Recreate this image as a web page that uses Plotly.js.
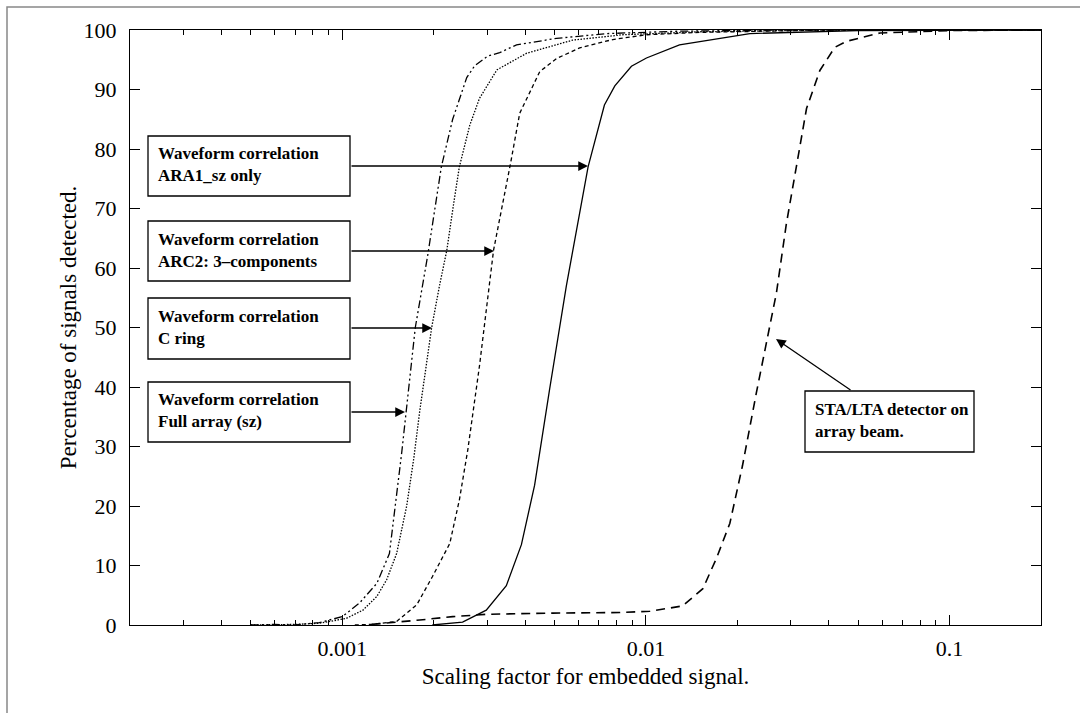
<!DOCTYPE html>
<html>
<head>
<meta charset="utf-8">
<script src="https://cdn.plot.ly/plotly-3.0.1.min.js"></script>
<style>html,body{margin:0;padding:0;background:#fff;}#chart{width:1080px;height:713px;}</style>
</head>
<body>
<div id="chart"></div>
<script>
// ---- Data ----
const fullArrayX = [0.0005, 0.0006, 0.0007, 0.00084, 0.0010, 0.00114, 0.0013, 0.00143, 0.00157, 0.00174, 0.00191, 0.00212, 0.00231, 0.00257, 0.00273, 0.00301, 0.0033, 0.00375, 0.00508, 0.00743, 0.0129, 0.03, 0.2];
const fullArrayY = [0, 0.1, 0, 0.4, 1.4, 3.7, 7, 12, 29, 50, 62, 77, 85, 92, 94, 95.6, 96.2, 97.5, 98.6, 99.4, 99.8, 100, 100];

const cRingX = [0.0005, 0.0006, 0.0007, 0.00084, 0.00103, 0.00117, 0.0013, 0.0014, 0.00151, 0.00163, 0.00172, 0.0018, 0.00188, 0.00197, 0.00209, 0.00221, 0.00233, 0.00243, 0.00263, 0.00283, 0.00323, 0.00405, 0.00574, 0.00839, 0.015, 0.04, 0.2];
const cRingY = [0, 0, 0.1, 0.3, 1.1, 2.5, 4.8, 7.6, 12, 20, 28, 36, 43, 50, 57, 63, 71, 77, 84, 88.5, 93.3, 96.1, 98.3, 99.2, 99.7, 100, 100];

const arc2X = [0.0011, 0.00125, 0.00151, 0.00176, 0.00198, 0.00226, 0.00243, 0.00259, 0.00283, 0.00315, 0.00358, 0.00384, 0.00447, 0.00508, 0.00605, 0.00778, 0.01006, 0.015, 0.04, 0.2];
const arc2Y = [0, 0.1, 0.6, 3.4, 8.1, 13.7, 21, 29.4, 43.5, 63, 77.5, 86, 93, 95.2, 97, 98.4, 99.2, 99.6, 100, 100];

const ara1X = [0.00198, 0.00249, 0.00298, 0.00347, 0.00389, 0.0043, 0.00482, 0.00547, 0.00645, 0.0073, 0.0079, 0.00896, 0.01004, 0.0129, 0.022, 0.05, 0.2];
const ara1Y = [0, 0.5, 2.5, 6.6, 13.5, 23.5, 39.7, 57, 77, 87.4, 90.6, 93.9, 95.3, 97.5, 99.4, 99.9, 100];

const staltaX = [0.00125, 0.00151, 0.0018, 0.00231, 0.00298, 0.00493, 0.0082, 0.0103, 0.0132, 0.0154, 0.0171, 0.0189, 0.0208, 0.0231, 0.025, 0.0269, 0.029, 0.0313, 0.0338, 0.0374, 0.0419, 0.0458, 0.059, 0.1, 0.2];
const staltaY = [0.1, 0.45, 0.84, 1.4, 1.8, 2.0, 2.1, 2.3, 3.2, 6.1, 11.3, 17.1, 26.8, 39, 47.4, 55.8, 67.4, 77.1, 86.8, 93.2, 97.1, 98.1, 99.5, 99.9, 100];

const xTickVals = [0.001, 0.01, 0.1];
const xTickText = ['0.001', '0.01', '0.1'];
const xMinorVals = [0.0002,0.0003,0.0004,0.0005,0.0006,0.0007,0.0008,0.0009,
                    0.002,0.003,0.004,0.005,0.006,0.007,0.008,0.009,
                    0.02,0.03,0.04,0.05,0.06,0.07,0.08,0.09,0.2];

const boxLabels = [
  'Waveform correlation<br>ARA1_sz only',
  'Waveform correlation<br>ARC2: 3\u2013components',
  'Waveform correlation<br>C ring',
  'Waveform correlation<br>Full array (sz)',
  'STA/LTA detector on<br>array beam.'
];

// ---- Layout helpers (pixel -> paper) ----
const W = 1080, H = 713;
const M = {l: 130, r: 39, t: 30, b: 88};
const PW = W - M.l - M.r, PH = H - M.t - M.b;
const px = x => (x - M.l) / PW;
const py = y => (H - M.b - y) / PH;

const serif = 'Liberation Serif, Times New Roman, serif';
const lw = 1.3;

const traces = [
  {x: fullArrayX, y: fullArrayY, mode: 'lines', line: {color: '#000', width: lw, dash: '8px,3px,2px,3px,2px,3px'}},
  {x: cRingX, y: cRingY, mode: 'lines', line: {color: '#000', width: lw, dash: '1.5px,1.5px'}},
  {x: arc2X, y: arc2Y, mode: 'lines', line: {color: '#000', width: lw, dash: '4px,3px'}},
  {x: ara1X, y: ara1Y, mode: 'lines', line: {color: '#000', width: lw}},
  {x: staltaX, y: staltaY, mode: 'lines', line: {color: '#000', width: 1.6, dash: '9px,6px'}}
];

// boxes: [left, top, right, bottom] in px, arrow tip & tail
const boxes = [
  {b: [148, 136, 350, 196], tail: [350, 166], tip: [588, 166]},
  {b: [148, 221, 350, 281], tail: [350, 251], tip: [494, 251]},
  {b: [148, 298, 350, 359], tail: [350, 328], tip: [432, 328]},
  {b: [148, 382, 350, 442], tail: [350, 412], tip: [405, 412]},
  {b: [805, 391, 974, 452], tail: [852, 391], tip: [776, 339]}
];

const shapes = [
  {type: 'rect', xref: 'paper', yref: 'paper', x0: px(7), y0: py(760), x1: px(1130), y1: py(7),
   line: {color: '#888', width: 1.5}, fillcolor: 'rgba(0,0,0,0)', layer: 'below'}
];
const annotations = [];
boxes.forEach((o, i) => {
  const [l, t, r, b] = o.b;
  shapes.push({type: 'rect', xref: 'paper', yref: 'paper', x0: px(l), y0: py(b), x1: px(r), y1: py(t),
    line: {color: '#000', width: 1.3}, fillcolor: '#fff', layer: 'above'});
  annotations.push({xref: 'paper', yref: 'paper', x: px(l + 8), y: py((t + b) / 2 - 1), xanchor: 'left', yanchor: 'middle',
    align: 'left', showarrow: false, text: '<b>' + boxLabels[i] + '</b>',
    font: {family: serif, size: 17, color: '#000'}});
  annotations.push({xref: 'paper', yref: 'paper', x: px(o.tip[0]), y: py(o.tip[1]), text: '',
    showarrow: true, arrowhead: 2, arrowsize: 1.5, arrowwidth: 1.3, arrowcolor: '#000', standoff: 0,
    ax: o.tail[0] - o.tip[0], ay: o.tail[1] - o.tip[1]});
});

const axisCommon = {
  showline: true, linecolor: '#000', linewidth: 1.2, mirror: 'ticks',
  ticks: 'inside', ticklen: 10, tickwidth: 1, tickcolor: '#000',
  showgrid: false, zeroline: false,
  tickfont: {family: serif, size: 22, color: '#000'}
};

const layout = {
  width: W, height: H, margin: M, showlegend: false,
  paper_bgcolor: '#fff', plot_bgcolor: '#fff',
  xaxis: Object.assign({}, axisCommon, {
    type: 'log', range: [Math.log10(0.0002), Math.log10(0.2)],
    tickmode: 'array', tickvals: xTickVals, ticktext: xTickText, ticklabelstandoff: 3,
    minor: {tickmode: 'array', tickvals: xMinorVals, ticks: 'inside', ticklen: 5, tickwidth: 1, tickcolor: '#000', showgrid: false},
    title: {text: 'Scaling factor for embedded signal.', font: {family: serif, size: 23, color: '#000'}, standoff: 8}
  }),
  yaxis: Object.assign({}, axisCommon, {
    range: [0, 100], tickmode: 'linear', tick0: 0, dtick: 10, ticklabelstandoff: 8,
    title: {text: 'Percentage of signals detected.', font: {family: serif, size: 23, color: '#000'}, standoff: 0}
  }),
  shapes: shapes,
  annotations: annotations
};

Plotly.newPlot('chart', traces, layout, {staticPlot: true, displayModeBar: false});
</script>
</body>
</html>
